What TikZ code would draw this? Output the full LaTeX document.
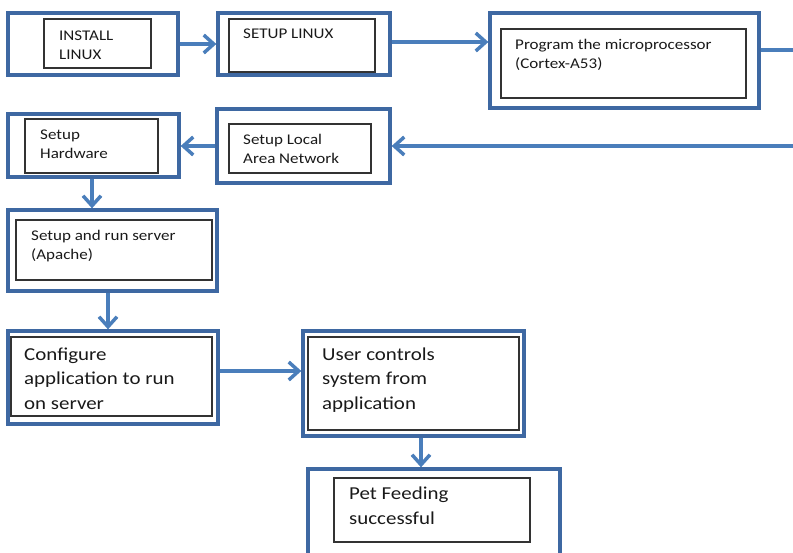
\documentclass[tikz,border=0pt]{standalone}
\usepackage{fontspec}
\setmainfont{Carlito}[FakeStretch=1.15]
\usetikzlibrary{arrows.meta}
\definecolor{boxblue}{RGB}{62,104,162}
\definecolor{arrowblue}{RGB}{74,126,187}
\tikzset{
  corners/.style n args={4}{at={({(#1+#3)/2},{(#2+#4)/2})},
    minimum width={(#3-#1)*1pt}, minimum height={(#4-#2)*1pt}},
  outerbox/.style={draw=boxblue, line width=3.3pt, inner sep=0pt, rectangle},
  innerbox/.style={draw=black!80, line width=1.2pt, inner sep=0pt, rectangle},
  smalltext/.style={font=\fontsize{14.8}{19}\selectfont, anchor=base west, align=left, inner sep=0pt, text=black!90},
  bigtext/.style={font=\fontsize{18.2}{24.2}\selectfont, anchor=base west, align=left, inner sep=0pt, text=black!90},
  flow/.style={draw=arrowblue, line width=3.5pt, -{Straight Barb[length=10pt,width=18pt]}},
  plainline/.style={draw=arrowblue, line width=3.5pt}
}
\begin{document}
\begin{tikzpicture}[x=1pt,y=-1pt]
\useasboundingbox (0,0) rectangle (793,552);
% outer boxes
\node[outerbox, corners={8}{13}{178}{75}] (b1) {};
\node[outerbox, corners={218}{13}{390}{75}] (b2) {};
\node[outerbox, corners={490}{13}{759}{108}] (b3) {};
\node[outerbox, corners={217}{109}{390}{183}] (b4) {};
\node[outerbox, corners={8}{114}{179}{177}] (b5) {};
\node[outerbox, corners={8}{210}{217}{291}] (b6) {};
\node[outerbox, corners={8}{331}{218}{424}] (b7) {};
\node[outerbox, corners={303}{331}{524}{436}] (b8) {};
\node[outerbox, corners={308}{469}{560}{590}] (b9) {};
% inner boxes
\node[innerbox, corners={44}{19}{151}{68}] (i1) {};
\node[innerbox, corners={229}{19}{375}{72}] (i2) {};
\node[innerbox, corners={501}{29}{746}{98}] (i3) {};
\node[innerbox, corners={229}{124}{371}{173}] (i4) {};
\node[innerbox, corners={25}{119}{158}{173}] (i5) {};
\node[innerbox, corners={16}{220}{212}{280}] (i6) {};
\node[innerbox, corners={11}{337}{212}{416}] (i7) {};
\node[innerbox, corners={308}{337}{519}{430}] (i8) {};
\node[innerbox, corners={334}{478}{530}{542}] (i9) {};
% texts (anchored at the baseline of their last line)
\node[smalltext] (t1) at (59,59) {INSTALL\\LINUX};
\node[smalltext] (t2) at (243,38) {SETUP LINUX};
\node[smalltext] (t3) at (515,68) {Program the microprocessor\\(Cortex-A53)};
\node[smalltext] (t4) at (243,163) {Setup Local\\Area Network};
\node[smalltext] (t5) at (40,158) {Setup\\Hardware};
\node[smalltext] (t6) at (31,259) {Setup and run server\\(Apache)};
\node[bigtext] (t7) at (24,409) {Configure\\application to run\\on server};
\node[bigtext] (t8) at (322,409) {User controls\\system from\\application};
\node[bigtext] (t9) at (349,524) {Pet Feeding\\successful};
% free ends at the right edge
\coordinate (r1) at (800,50);
\coordinate (r2) at (800,146);
% connectors
\draw[flow] (b1.east) -- (b2.west);
\draw[flow] ([yshift=2pt]b2.east) -- ([yshift=2pt]b2.east -| b3.west);
\draw[plainline] (b3.east |- r1) -- (r1);
\draw[flow] (r2) -- (r2 -| b4.east);
\draw[flow] (b4.west) -- (b4.west -| b5.east);
\draw[flow] ([xshift=-1.5pt]b5.south) -- ([xshift=-1.5pt]b5.south |- b6.north);
\draw[flow] ([xshift=-4.5pt]b6.south) -- ([xshift=-4.5pt]b6.south |- b7.north);
\draw[flow] ([yshift=6.5pt]b7.east) -- ([yshift=6.5pt]b7.east -| b8.west);
\draw[flow] ([xshift=7.5pt]b8.south) -- ([xshift=7.5pt]b8.south |- b9.north);
\end{tikzpicture}
\end{document}
